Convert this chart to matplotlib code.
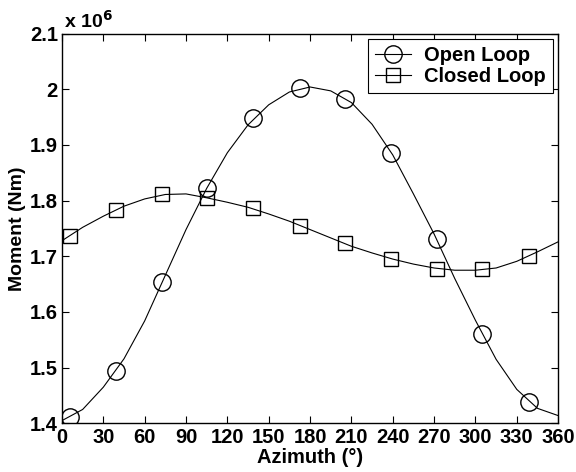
import numpy as np
import matplotlib
matplotlib.use("Agg")
import matplotlib.pyplot as plt
from matplotlib.lines import Line2D
from matplotlib.ticker import FuncFormatter

plt.rcParams["font.family"] = ["Liberation Sans", "DejaVu Sans"]
plt.rcParams["font.weight"] = "bold"

# smooth curves, read every 15 deg (moment in 1e6 Nm)
azimuth = [0, 15, 30, 45, 60, 75, 90, 105, 120, 135, 150, 165, 180,
           195, 210, 225, 240, 255, 270, 285, 300, 315, 330, 345, 360]
open_curve = [1.405, 1.425, 1.465, 1.516, 1.584, 1.666, 1.748, 1.822, 1.886,
              1.936, 1.972, 1.995, 2.004, 1.997, 1.976, 1.937, 1.882, 1.812,
              1.740, 1.660, 1.585, 1.515, 1.461, 1.427, 1.414]
closed_curve = [1.728, 1.752, 1.772, 1.790, 1.803, 1.811, 1.812, 1.805, 1.797,
                1.788, 1.776, 1.763, 1.748, 1.733, 1.718, 1.706, 1.695, 1.686,
                1.679, 1.675, 1.675, 1.679, 1.691, 1.708, 1.726]

# marker positions
marker_az = [5.8, 39, 72.5, 105.5, 138.5, 172.5, 205, 238.7, 272, 305, 338.5]
open_marks = [1.412, 1.494, 1.653, 1.823, 1.949, 2.003, 1.983, 1.885, 1.731,
              1.561, 1.438]
closed_marks = [1.737, 1.784, 1.811, 1.804, 1.786, 1.755, 1.723, 1.696, 1.678,
                1.677, 1.701]

fig = plt.figure(figsize=(5.76, 4.72), dpi=100)
ax = fig.add_axes([0.1076, 0.103, 0.8614, 0.826])

ax.plot(azimuth, open_curve, color="black", lw=0.8)
ax.plot(azimuth, closed_curve, color="black", lw=0.8)
ax.plot(marker_az, open_marks, ls="none", marker="o", ms=12.5,
        mfc="none", mec="black", mew=1.0)
ax.plot(marker_az, closed_marks, ls="none", marker="s", ms=10.5,
        mfc="none", mec="black", mew=1.0)

ax.set_xlim(0, 360)
ax.set_ylim(1.4, 2.1)
ax.set_xticks(np.arange(0, 361, 30))
ax.set_yticks(np.arange(1.4, 2.11, 0.1))
ax.yaxis.set_major_formatter(FuncFormatter(lambda v, p: f"{v:g}"))
ax.tick_params(direction="in", top=True, right=True, length=5, width=0.8,
               labelsize=14.5)
ax.tick_params(axis="x", pad=3.5)
ax.tick_params(axis="y", pad=3)
for lab in ax.get_xticklabels() + ax.get_yticklabels():
    lab.set_fontweight("bold")
for s in ax.spines.values():
    s.set_linewidth(1.0)

ax.set_xlabel("Azimuth (°)", fontsize=14.5, fontweight="bold", labelpad=0.5)
ax.set_ylabel("Moment (Nm)", fontsize=14,
              family=["Liberation Sans Narrow", "Liberation Sans"],
              fontweight="bold", labelpad=3)
ax.text(0.004, 1.004, "x 10$^{\\mathbf{6}}$", transform=ax.transAxes,
        fontsize=14, fontweight="bold", ha="left", va="bottom")

handles = [
    Line2D([], [], color="black", lw=0.8, marker="o", ms=12.5, mfc="none",
           mec="black"),
    Line2D([], [], color="black", lw=0.8, marker="s", ms=10.5, mfc="none",
           mec="black"),
]
leg = ax.legend(handles, ["Open Loop", "Closed Loop"], loc="upper right",
                fancybox=False, framealpha=1, edgecolor="black",
                prop={"size": 14.5, "weight": "bold"}, borderaxespad=0.25,
                handlelength=1.8, handletextpad=0.65, labelspacing=0.1,
                borderpad=0.35)
leg.get_frame().set_linewidth(0.8)

fig.savefig("out.png", dpi=100)
